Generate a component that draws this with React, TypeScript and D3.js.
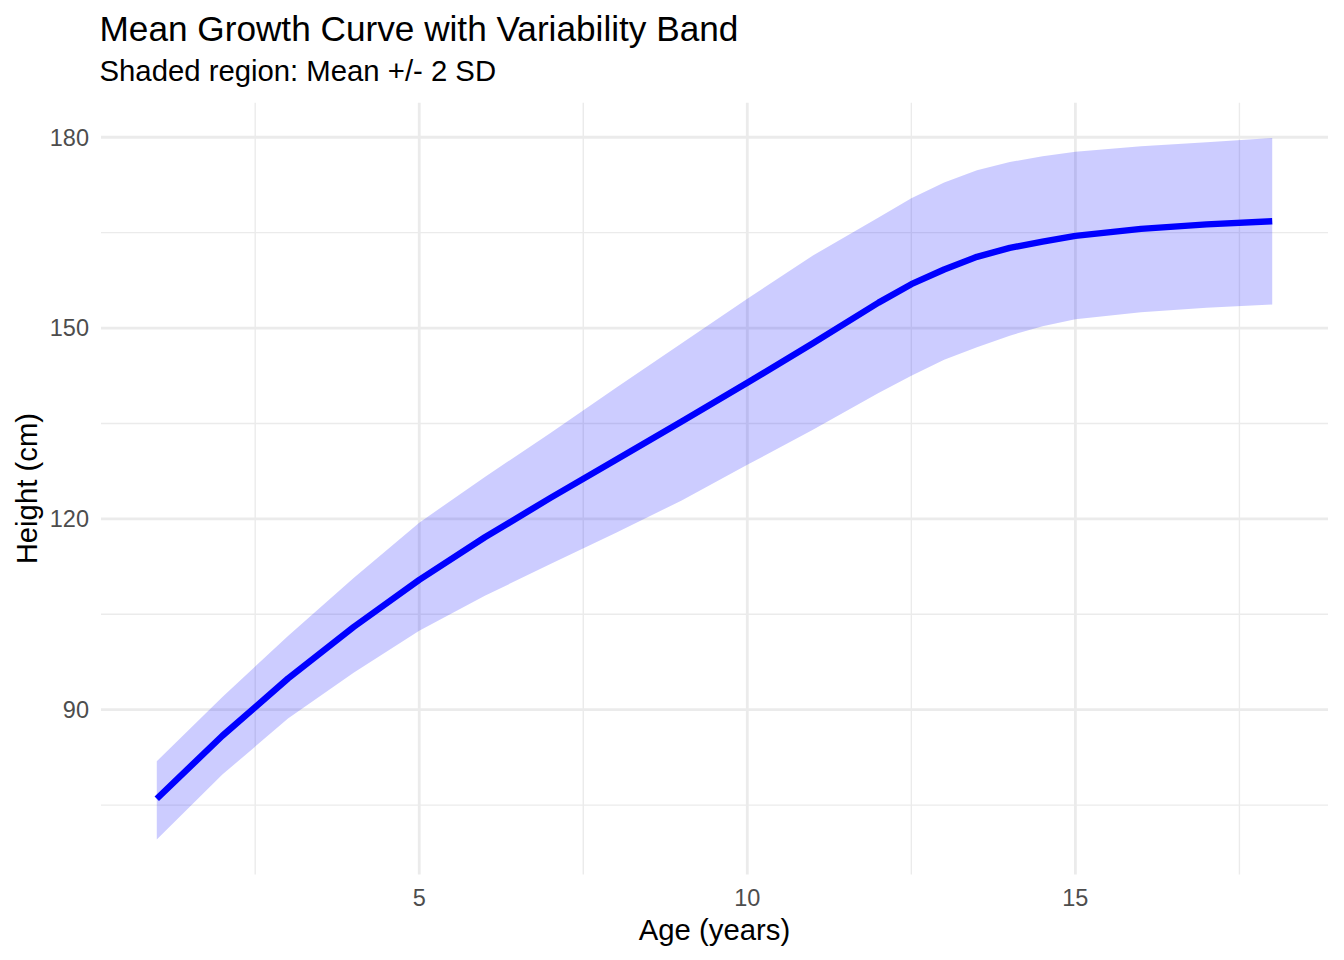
import React from 'react';
import * as d3 from 'd3';

// ---- Data ----
const ages = [1, 2, 3, 4, 5, 6, 7, 8, 9, 10, 11, 12, 12.5, 13, 13.5, 14, 14.5, 15, 16, 17, 18];
const meanHeight = [76.0, 85.9, 94.9, 103.0, 110.4, 117.1, 123.3, 129.3, 135.3, 141.4, 147.6, 154.0, 156.9, 159.2, 161.2, 162.6, 163.6, 164.5, 165.6, 166.3, 166.8];
const upperBand = [81.9, 92.0, 101.6, 110.7, 119.4, 126.6, 133.5, 140.6, 147.6, 154.6, 161.4, 167.4, 170.4, 172.9, 174.8, 176.1, 177.0, 177.7, 178.6, 179.2, 179.9];
const lowerBand = [69.6, 79.8, 88.6, 95.8, 102.4, 107.9, 112.9, 117.8, 122.9, 128.5, 134.0, 139.8, 142.5, 145.0, 147.0, 148.8, 150.3, 151.4, 152.5, 153.2, 153.7];

const xMajorTicks = [5, 10, 15];
const xMinorTicks = [2.5, 7.5, 12.5, 17.5];
const yMajorTicks = [90, 120, 150, 180];
const yMinorTicks = [75, 105, 135, 165];

const titleText = 'Mean Growth Curve with Variability Band';
const subtitleText = 'Shaded region: Mean +/- 2 SD';
const xAxisTitle = 'Age (years)';
const yAxisTitle = 'Height (cm)';

// ---- Layout ----
const W = 1344;
const H = 960;
const panel = { left: 101, right: 1328, top: 102.8, bottom: 874.5 };
const FONT = '"Liberation Sans", Arial, Helvetica, sans-serif';
const GRID = '#ebebeb';

type Row = { age: number; mean: number; lo: number; hi: number };

export default function App() {
  const [x0, x1] = d3.extent(ages) as [number, number];
  const xPad = (x1 - x0) * 0.05;
  const x = d3.scaleLinear().domain([x0 - xPad, x1 + xPad]).range([panel.left, panel.right]);

  const yMin = d3.min(lowerBand) as number;
  const yMax = d3.max(upperBand) as number;
  const yPad = (yMax - yMin) * 0.05;
  const y = d3.scaleLinear().domain([yMin - yPad, yMax + yPad]).range([panel.bottom, panel.top]);

  const rows: Row[] = ages.map((a, i) => ({ age: a, mean: meanHeight[i], lo: lowerBand[i], hi: upperBand[i] }));

  const area = d3
    .area<Row>()
    .x((d) => x(d.age))
    .y0((d) => y(d.lo))
    .y1((d) => y(d.hi));
  const line = d3
    .line<Row>()
    .x((d) => x(d.age))
    .y((d) => y(d.mean));

  const midX = (panel.left + panel.right) / 2;
  const midY = (panel.top + panel.bottom) / 2;

  return (
    <svg
      width={W}
      height={H}
      viewBox={`0 0 ${W} ${H}`}
      style={{ position: 'absolute', left: 0, top: 0, background: '#ffffff' }}
      fontFamily={FONT}
    >
      <rect x={0} y={0} width={W} height={H} fill="#ffffff" />

      {/* minor grid */}
      {xMinorTicks.map((t) => (
        <line key={`xm${t}`} x1={x(t)} x2={x(t)} y1={panel.top} y2={panel.bottom} stroke={GRID} strokeWidth={1.4} />
      ))}
      {yMinorTicks.map((t) => (
        <line key={`ym${t}`} x1={panel.left} x2={panel.right} y1={y(t)} y2={y(t)} stroke={GRID} strokeWidth={1.4} />
      ))}
      {/* major grid */}
      {xMajorTicks.map((t) => (
        <line key={`xM${t}`} x1={x(t)} x2={x(t)} y1={panel.top} y2={panel.bottom} stroke={GRID} strokeWidth={2.8} />
      ))}
      {yMajorTicks.map((t) => (
        <line key={`yM${t}`} x1={panel.left} x2={panel.right} y1={y(t)} y2={y(t)} stroke={GRID} strokeWidth={2.8} />
      ))}

      {/* band */}
      <path d={area(rows) as string} fill="#0000ff" fillOpacity={0.2} stroke="none" />
      {/* mean line */}
      <path
        d={line(rows) as string}
        fill="none"
        stroke="#0000ff"
        strokeWidth={6.4}
        strokeLinejoin="round"
        strokeLinecap="butt"
      />

      {/* axis tick labels */}
      {xMajorTicks.map((t) => (
        <text key={`xl${t}`} x={x(t)} y={906} textAnchor="middle" fontSize={23.5} fill="#4d4d4d">
          {t}
        </text>
      ))}
      {yMajorTicks.map((t) => (
        <text key={`yl${t}`} x={89} y={y(t) + 8.4} textAnchor="end" fontSize={23.5} fill="#4d4d4d">
          {t}
        </text>
      ))}

      {/* axis titles */}
      <text x={midX} y={940} textAnchor="middle" fontSize={29.3} fill="#000000">
        {xAxisTitle}
      </text>
      <text
        transform={`translate(37, ${midY}) rotate(-90)`}
        textAnchor="middle"
        fontSize={29.3}
        fill="#000000"
      >
        {yAxisTitle}
      </text>

      {/* titles */}
      <text x={99.5} y={41} fontSize={35.2} fill="#000000">
        {titleText}
      </text>
      <text x={99.5} y={81} fontSize={29.3} fill="#000000">
        {subtitleText}
      </text>
    </svg>
  );
}
